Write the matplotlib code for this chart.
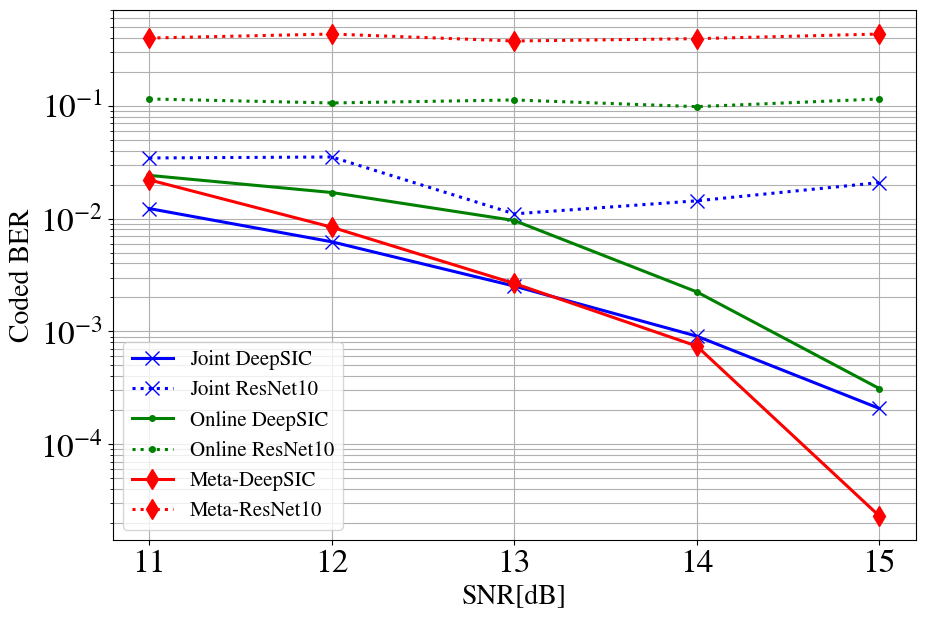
import matplotlib
matplotlib.use("Agg")
import matplotlib.pyplot as plt

plt.rcParams['font.family'] = ['STIXGeneral', 'DejaVu Serif']
plt.rcParams['mathtext.fontset'] = 'stix'

snr = [11, 12, 13, 14, 15]
joint_deepsic = [0.01225, 0.00622, 0.00252, 0.000908, 0.000208]
joint_resnet = [0.0344, 0.0351, 0.0110, 0.01435, 0.0208]
online_deepsic = [0.0241, 0.0170, 0.0096, 0.00224, 0.000312]
online_resnet = [0.1146, 0.1056, 0.1123, 0.098, 0.1146]
meta_deepsic = [0.0220, 0.00838, 0.00266, 0.000741, 2.32e-5]
meta_resnet = [0.397, 0.431, 0.374, 0.392, 0.431]

fig, ax = plt.subplots(figsize=(9.25, 6.2), dpi=100)
fig.subplots_adjust(left=0.122, right=0.99, top=0.984, bottom=0.129)

lw = 2.2
ax.plot(snr, joint_deepsic, linestyle='-', marker='x', color='blue', lw=lw, ms=10, label='Joint DeepSIC')
ax.plot(snr, joint_resnet, linestyle=':', marker='x', color='blue', lw=lw, ms=10, label='Joint ResNet10')
ax.plot(snr, online_deepsic, linestyle='-', marker='.', color='green', lw=lw, ms=8, label='Online DeepSIC')
ax.plot(snr, online_resnet, linestyle=':', marker='.', color='green', lw=lw, ms=8, label='Online ResNet10')
ax.plot(snr, meta_deepsic, linestyle='-', marker='d', color='red', lw=lw, ms=10, label='Meta-DeepSIC')
ax.plot(snr, meta_resnet, linestyle=':', marker='d', color='red', lw=lw, ms=10, label='Meta-ResNet10')

ax.set_yscale('log')
ax.set_xticks(snr)
ax.grid(True, which='both', color='#b0b0b0', lw=0.8)
ax.tick_params(axis='both', which='major', labelsize=24)
ax.set_xlabel('SNR[dB]', fontsize=20)
ax.set_ylabel('Coded BER', fontsize=20)
ax.legend(loc='lower left', fontsize=15)

fig.savefig('out.png', dpi=100)
